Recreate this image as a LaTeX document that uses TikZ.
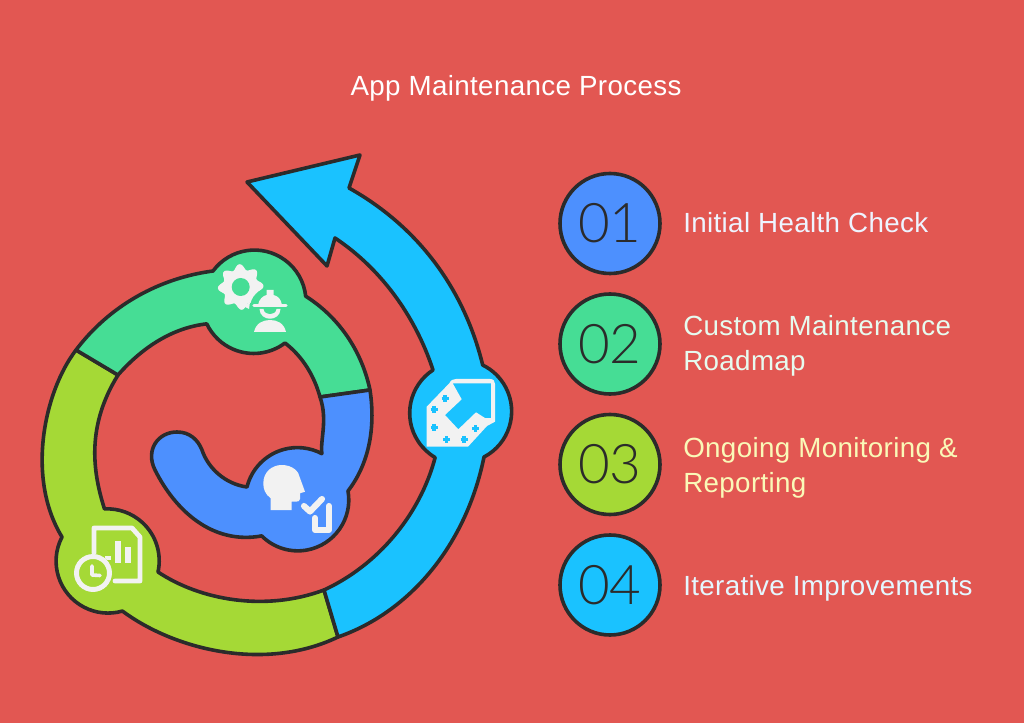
\documentclass[tikz,border=0pt]{standalone}
\usepackage{fontspec}
\setmainfont[LetterSpace=1.3]{Liberation Sans}
\newfontfamily\numfont[LetterSpace=-1]{Lato Light}
\definecolor{bg}{HTML}{E25752}
\definecolor{cyanc}{HTML}{1AC2FF}
\definecolor{greenc}{HTML}{46DD95}
\definecolor{bluec}{HTML}{4D90FE}
\definecolor{limec}{HTML}{A5D936}
\definecolor{inkc}{HTML}{2B2B2B}
\definecolor{iconc}{HTML}{F2F2F2}
\definecolor{txtblue}{HTML}{EEF4FF}
\definecolor{txtgreen}{HTML}{E6FBEF}
\definecolor{txtlime}{HTML}{FAF9B8}
\definecolor{txtcyan}{HTML}{E4F7FF}
\tikzset{
  seg/.style={draw=inkc,line width=2.7pt,line join=round},
  badge/.style={circle,draw=inkc,line width=2.7pt,minimum size=75pt,inner sep=0pt,text=inkc,font=\numfont\fontsize{41}{41}\selectfont},
  lab/.style={anchor=base west,inner sep=0pt,font=\fontsize{20.8}{26}\selectfont},
  iconfill/.style={fill=iconc,draw=none},
  iconline/.style={draw=iconc,line cap=round,line join=round},
}
\begin{document}
\begin{tikzpicture}[x=0.75pt,y=-0.75pt]
\fill[bg] (0,0) rectangle (1024,723);
\useasboundingbox (0,0) rectangle (1024,723);
\node[anchor=base,inner sep=0pt,text=white,font=\fontsize{20.8}{26}\selectfont] (title) at (516,96) {App Maintenance Process};
% lime
\path[seg,fill=limec] (76,350) .. controls (44,392) and (26,478) .. (62,537)
  arc[start angle=207.6,end angle=74,radius=52]
  .. controls (175,650) and (265,672) .. (338,637)
  -- (324,590)
  .. controls (265,612) and (200,600) .. (158,572)
  arc[start angle=12.4,end angle=-93,radius=52]
  .. controls (92,470) and (87,425) .. (118,375) -- cycle;
% green
\path[seg,fill=greenc] (76,350) .. controls (110,305) and (160,278) .. (213,271)
  arc[start angle=-143.6,end angle=-6,radius=51.5]
  .. controls (340,318) and (362,352) .. (370,390)
  -- (320,397)
  .. controls (314,375) and (302,356) .. (285,343)
  arc[start angle=53,end angle=154.5,radius=52]
  .. controls (170,328) and (140,350) .. (118,375) -- cycle;
% blue
\path[seg,fill=bluec] (320,397) -- (370,390)
  .. controls (376,430) and (368,465) .. (348,491)
  arc[start angle=-10,end angle=135,radius=51]
  .. controls (212,545) and (175,510) .. (155,470)
  .. controls (145,450) and (158,432) .. (177,432)
  .. controls (190,432) and (198,440) .. (202,450)
  .. controls (208,468) and (225,484) .. (247,487)
  arc[start angle=194,end angle=298,radius=52]
  .. controls (320,440) and (328,420) .. (320,397) -- cycle;
% cyan arrow
\path[seg,fill=cyanc] (338,637) .. controls (410,612) and (466,545) .. (484,457)
  arc[start angle=62.4,end angle=-64,radius=51.5]
  .. controls (463,285) and (415,225) .. (349,188)
  -- (360,155) -- (247,182) -- (327,266) -- (335,238)
  .. controls (380,268) and (415,315) .. (433,370)
  arc[start angle=236.8,end angle=120.4,radius=51.5]
  .. controls (420,515) and (378,565) .. (324,590) -- cycle;
% cyan icon
\path[iconfill,even odd rule] (426.7,406.7) -- (449.3,383.3)
  .. controls (451,380) and (453,379) .. (456,379) -- (490,379)
  .. controls (493.5,379) and (495,381) .. (495,384) -- (495,421.7) -- (487,426) -- (468,446.7) -- (426.7,446.7) -- cycle
  (452.7,383.3) -- (491,383.3) -- (491,418) -- (485,418) -- (476,412.3) -- (458.3,429.3) -- (445,415) -- (461.7,399.3) -- cycle;
\foreach \px/\py in {445/398.3,434/409.3,434/427.3,446.7/439.3,464/439.3,475.7/428.3}{
  \draw[cyanc,line width=2.4pt] (\px-3.5,\py) -- (\px+3.5,\py) (\px,\py-3.5) -- (\px,\py+3.5);
}
% gear + worker
\fill[iconc,domain=0:360,samples=145,smooth] plot ({240.7+(20.2+2.6*cos(8*\x+22))*cos(\x)},{287+(20.2+2.6*cos(8*\x+22))*sin(\x)}) -- cycle;
\fill[iconc] (243,306) -- (249,309) -- (250,302) -- cycle;
\fill[greenc] (240.7,287) circle[radius=9];
\fill[greenc] (270,308) circle[radius=20];
\path[iconfill] (258,305) .. controls (259,299) and (263,296) .. (266.5,295) -- (266.5,290) -- (273.5,290) -- (273.5,295) .. controls (278,296) and (281,299) .. (282,305) -- cycle;
\draw[iconline,line width=2.4pt] (254,305.5) -- (286,305.5);
\path[iconfill] (259.5,309) .. controls (260,322) and (280,322) .. (280.5,309) -- (276.5,309) .. controls (276,316) and (264,316) .. (263.5,309) -- cycle;
\path[iconfill] (254,332) .. controls (256,323) and (263,320) .. (270,320) .. controls (277,320) and (284,323) .. (286,332) -- cycle;
% head icon
\path[iconfill] (270.7,510) -- (270.7,498.3) .. controls (265,494) and (263.3,489) .. (263.3,483.3) .. controls (263.3,472) and (272,465) .. (281.7,465) .. controls (292,465) and (299,471) .. (300,478) -- (305,491.7) -- (300,493.3) -- (300,499) .. controls (300,501) and (298,501.7) .. (296,501.7) -- (291.7,501.7) -- (291.7,510) -- cycle;
\draw[iconline,line width=4.6pt] (304,506) -- (310,511.5) -- (322,499);
\draw[iconline,line width=4.6pt] (315,518) -- (315,530) -- (329,530) -- (329,506);
% doc + clock icon
\draw[iconline,line width=3.6pt] (94,553) -- (94,528) -- (132,528) -- (140,537) -- (140,581) -- (115,581);
\draw[iconc,line width=4.6pt] (128,547) -- (128,563) (118,541) -- (118,563);
\draw[iconc,line width=4.2pt] (108,556) -- (108,560);
\fill[limec] (93,573) circle[radius=19];
\draw[iconc,line width=3.7pt] (93,573) circle[radius=16.5];
\draw[iconline,line width=2.7pt] (92,566) -- (92,575) -- (100,575.5);
% legend
\node[badge,fill=bluec] (b1) at (610,223.5) {01};
\node[badge,fill=greenc] (b2) at (610,344) {02};
\node[badge,fill=limec] (b3) at (610,464.5) {03};
\node[badge,fill=cyanc] (b4) at (610,585) {04};
\node[lab,text=txtblue] (t1) at (683,233) {Initial Health Check};
\node[lab,text=txtgreen] (t2a) at (683,336) {Custom Maintenance};
\node[lab,text=txtgreen] (t2b) at (683,371) {Roadmap};
\node[lab,text=txtlime] (t3a) at (683,457) {Ongoing Monitoring \&};
\node[lab,text=txtlime] (t3b) at (683,492) {Reporting};
\node[lab,text=txtcyan] (t4) at (683,595) {Iterative Improvements};
\end{tikzpicture}
\end{document}
